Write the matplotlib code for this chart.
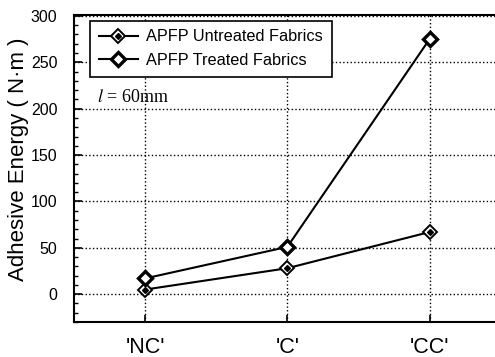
from matplotlib import pyplot as plt
from matplotlib.lines import Line2D
import numpy as np

categories = ["'NC'", "'C'", "'CC'"]
untreated = [5, 28, 67]
treated = [17, 51, 275]

plt.rcParams['font.family'] = ['Liberation Sans', 'DejaVu Sans']
plt.rcParams['mathtext.fontset'] = 'stix'

fig = plt.figure(figsize=(4.95, 3.57), dpi=100)
ax = fig.add_axes([0.1495, 0.098, 0.8505, 0.86])

_x = np.arange(len(categories))

# untreated: open diamond with small filled diamond inside
ax.plot(_x, untreated, color='black', lw=1.5, marker='D', ms=7, zorder=3,
        mfc='white', mec='black', mew=1.4)
ax.plot(_x, untreated, ls='none', marker='D', ms=3, color='black', zorder=4)

# treated: thick-edged diamond with white centre
ax.plot(_x, treated, color='black', lw=1.5, marker='D', ms=7, zorder=3,
        mfc='white', mec='black', mew=2.4)

ax.set_xlim(-0.5, 2.46)
ax.set_ylim(-30, 301)
ax.set_xticks(_x)
ax.set_xticklabels(categories, fontsize=15.5)
ax.set_yticks(np.arange(0, 301, 50))
ax.set_yticks(np.arange(-30, 301, 10), minor=True)
ax.tick_params(axis='y', which='major', direction='in', length=6, width=1.2,
               labelsize=11.5, pad=12)
ax.tick_params(axis='y', which='minor', direction='in', length=3, width=1)
ax.tick_params(axis='x', direction='in', length=5, width=1.2, pad=11)
ax.grid(True, which='major', ls=':', lw=1, color='black')

for _s in ['left', 'bottom', 'top']:
    ax.spines[_s].set_linewidth(1.5)
ax.spines['right'].set_visible(False)

ax.set_ylabel("Adhesive Energy ( N\u00b7m )", fontsize=16, labelpad=1)
ax.yaxis.label.set_y(0.53)

_h1 = (Line2D([], [], color='black', lw=1.5, marker='D', ms=7, mfc='white', mec='black', mew=1.4),
       Line2D([], [], ls='none', marker='D', ms=3, color='black'))
_h2 = Line2D([], [], color='black', lw=1.5, marker='D', ms=7, mfc='white', mec='black', mew=2.4)
_leg = ax.legend([_h1, _h2], ["APFP Untreated Fabrics", "APFP Treated Fabrics"],
                 loc='upper left', bbox_to_anchor=(0.038, 0.982), fontsize=11.7,
                 frameon=True, fancybox=False, edgecolor='black', framealpha=1,
                 handlelength=2.4, handletextpad=0.5, borderpad=0.55, labelspacing=0.5,
                 borderaxespad=0)
_leg.get_frame().set_linewidth(1.2)

ax.text(0.055, 0.73, "$\\mathit{l}$ = 60mm", transform=ax.transAxes,
        fontsize=13, family='Liberation Serif', va='center')

plt.savefig("out.png", dpi=100)
